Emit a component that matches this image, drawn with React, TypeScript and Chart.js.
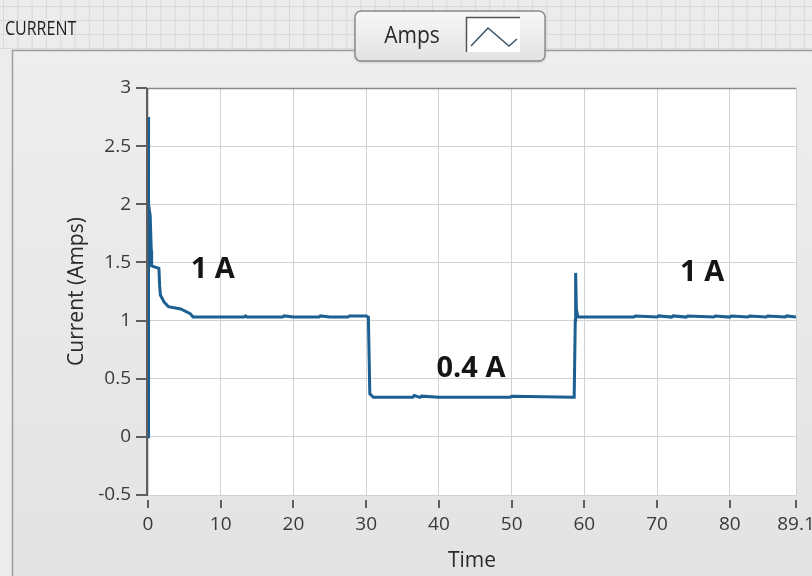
import React, { useEffect, useRef } from 'react';
import { Chart, registerables } from 'chart.js';
Chart.register(...registerables);

const chartTitle = 'CURRENT';
const seriesLabel = 'Amps';
const xTitle = 'Time';
const yTitle = 'Current (Amps)';

const times = [
  0, 0.05, 0.1, 0.3, 0.45, 0.5, 1.5, 1.6, 1.7, 2.2, 2.8, 4.5, 5.8, 6.2,
  8, 10, 13.2, 13.4, 13.6, 15, 18.5, 18.7, 20, 23.5, 23.7, 25, 27.5, 27.7, 30, 30.3,
  30.5, 31, 35, 36.4, 36.6, 37.4, 37.6, 40, 49.8, 50, 58.6,
  58.7, 58.75, 58.8, 58.9, 59.1, 66.8, 67, 70, 70.2, 72, 72.2, 74, 74.2, 77.8, 78,
  80, 80.2, 82.5, 82.7, 85, 85.2, 87.6, 87.8, 89.1
];
const amps = [
  0, 2.75, 2.0, 1.9, 1.6, 1.47, 1.45, 1.3, 1.22, 1.16, 1.12, 1.1, 1.06, 1.03,
  1.03, 1.03, 1.03, 1.04, 1.03, 1.03, 1.03, 1.04, 1.03, 1.03, 1.04, 1.03, 1.03, 1.04, 1.04, 1.03,
  0.37, 0.34, 0.34, 0.34, 0.355, 0.34, 0.35, 0.34, 0.34, 0.35, 0.34,
  0.34, 1.0, 1.41, 1.1, 1.03, 1.03, 1.04, 1.03, 1.04, 1.03, 1.04, 1.03, 1.04, 1.03, 1.04,
  1.03, 1.04, 1.03, 1.04, 1.03, 1.04, 1.03, 1.04, 1.03
];

const xTickValues = [0, 10, 20, 30, 40, 50, 60, 70, 80, 89.1];
const yTickValues = [-0.5, 0, 0.5, 1, 1.5, 2, 2.5, 3];

const annotationTexts = ['1 A', '0.4 A', '1 A'];
const annotationX = [8.9, 44.4, 76.2];
const annotationY = [1.44, 0.59, 1.41];

const FONT = '"Open Sans", "Noto Sans", sans-serif';

const decorPlugin = {
  id: 'decor',
  beforeDraw(chart: any) {
    const { ctx, width, height, chartArea: a } = chart;
    ctx.save();
    ctx.fillStyle = '#ececec';
    ctx.fillRect(0, 0, width, height);
    ctx.strokeStyle = '#d9d9d9';
    ctx.lineWidth = 1;
    for (let x = 3.5; x < width; x += 14.3) {
      ctx.beginPath(); ctx.moveTo(x, 0); ctx.lineTo(x, 50); ctx.stroke();
    }
    for (let y = 6.5; y < 50; y += 14) {
      ctx.beginPath(); ctx.moveTo(0, y); ctx.lineTo(width, y); ctx.stroke();
    }
    const g = ctx.createLinearGradient(0, 50, 0, height);
    g.addColorStop(0, '#eeeeee');
    g.addColorStop(1, '#e3e3e3');
    ctx.fillStyle = g;
    ctx.fillRect(12, 50, width - 12, height - 50);
    ctx.strokeStyle = '#9c9c9c';
    ctx.lineWidth = 1.5;
    ctx.beginPath();
    ctx.moveTo(12.5, height); ctx.lineTo(12.5, 50.5); ctx.lineTo(width, 50.5);
    ctx.stroke();
    ctx.fillStyle = '#ffffff';
    ctx.fillRect(a.left, a.top, a.right - a.left, a.bottom - a.top);
    // title, slightly stretched vertically like the reference
    ctx.save();
    ctx.translate(5, 29);
    ctx.scale(1, 1.3);
    ctx.fillStyle = '#1e1e1e';
    ctx.font = '16px ' + FONT;
    ctx.textBaseline = 'middle';
    ctx.textAlign = 'left';
    ctx.fillText(chartTitle, 0, 0);
    ctx.restore();
    // legend box
    const lx = 355, ly = 11, lw = 190, lh = 50;
    ctx.shadowColor = 'rgba(0,0,0,0.25)';
    ctx.shadowBlur = 3;
    ctx.shadowOffsetY = 1;
    const lg = ctx.createLinearGradient(0, ly, 0, ly + lh);
    lg.addColorStop(0, '#f7f7f7');
    lg.addColorStop(1, '#e2e2e2');
    ctx.fillStyle = lg;
    ctx.beginPath();
    ctx.roundRect(lx, ly, lw, lh, 6);
    ctx.fill();
    ctx.shadowColor = 'transparent';
    ctx.strokeStyle = '#8c8c8c';
    ctx.lineWidth = 1.5;
    ctx.stroke();
    ctx.save();
    ctx.translate(412, 36);
    ctx.scale(1, 1.15);
    ctx.fillStyle = '#2a2a2a';
    ctx.font = '21px ' + FONT;
    ctx.textAlign = 'center';
    ctx.textBaseline = 'middle';
    ctx.fillText(seriesLabel, 0, 0);
    ctx.restore();
    ctx.fillStyle = '#ffffff';
    ctx.fillRect(466, 17, 54, 35);
    ctx.strokeStyle = '#555555';
    ctx.lineWidth = 1.5;
    ctx.beginPath();
    ctx.moveTo(466.5, 52); ctx.lineTo(466.5, 17.5); ctx.lineTo(520, 17.5);
    ctx.stroke();
    ctx.strokeStyle = '#3d5566';
    ctx.lineWidth = 1.5;
    ctx.beginPath();
    ctx.moveTo(471, 46); ctx.lineTo(488, 28); ctx.lineTo(509, 46); ctx.lineTo(517, 39);
    ctx.stroke();
    ctx.restore();
  },
  afterDatasetsDraw(chart: any) {
    const { ctx, scales } = chart;
    ctx.save();
    ctx.fillStyle = '#151515';
    ctx.font = 'bold 29px ' + FONT;
    ctx.textAlign = 'center';
    ctx.textBaseline = 'middle';
    annotationTexts.forEach((t, i) => {
      ctx.fillText(t, scales.x.getPixelForValue(annotationX[i]), scales.y.getPixelForValue(annotationY[i]));
    });
    ctx.restore();
  },
  afterDraw(chart: any) {
    const { ctx, scales, chartArea: a } = chart;
    ctx.save();
    ctx.strokeStyle = '#8a8a8a';
    ctx.lineWidth = 1.5;
    ctx.beginPath(); ctx.moveTo(a.left, a.top + 0.5); ctx.lineTo(a.right, a.top + 0.5); ctx.stroke();
    ctx.strokeStyle = '#5e5e5e';
    ctx.lineWidth = 2;
    ctx.beginPath(); ctx.moveTo(a.left - 1, a.top); ctx.lineTo(a.left - 1, a.bottom + 1); ctx.stroke();
    yTickValues.forEach((v) => {
      const py = Math.round(scales.y.getPixelForValue(v));
      ctx.beginPath(); ctx.moveTo(a.left - 12, py); ctx.lineTo(a.left - 1, py); ctx.stroke();
    });
    xTickValues.forEach((v) => {
      const px = Math.round(scales.x.getPixelForValue(v));
      ctx.beginPath(); ctx.moveTo(px, a.bottom + 5); ctx.lineTo(px, a.bottom + 13); ctx.stroke();
    });
    ctx.restore();
  },
};

export default function App() {
  const ref = useRef<HTMLCanvasElement | null>(null);
  useEffect(() => {
    if (!ref.current) return;
    const chart = new Chart(ref.current, {
      type: 'line',
      data: {
        datasets: [
          {
            label: seriesLabel,
            data: times.map((t, i) => ({ x: t, y: amps[i] })),
            borderColor: '#1c5f91',
            borderWidth: 3,
            pointRadius: 0,
            tension: 0,
            fill: false,
          },
        ],
      },
      options: {
        responsive: false,
        animation: false,
        layout: { padding: { top: 88, right: 16, left: 0, bottom: 0 } },
        plugins: { legend: { display: false }, tooltip: { enabled: false } },
        scales: {
          x: {
            type: 'linear',
            min: 0,
            max: 89.1,
            afterBuildTicks: (s: any) => { s.ticks = xTickValues.map((v) => ({ value: v })); },
            afterFit: (s: any) => { s.height = 81; s.paddingLeft = 0; s.paddingRight = 0; },
            ticks: { color: '#3a3a3a', font: { family: FONT, size: 19 }, padding: 18, maxRotation: 0, autoSkip: false, callback: (v: any) => String(v) },
            grid: { color: '#d2d2d2', drawTicks: false, lineWidth: 1 },
            border: { display: false },
            title: { display: true, text: xTitle, color: '#2a2a2a', font: { family: FONT, size: 21 }, padding: { top: 0, bottom: 2 } },
          },
          y: {
            type: 'linear',
            min: -0.5,
            max: 3,
            afterBuildTicks: (s: any) => { s.ticks = yTickValues.map((v) => ({ value: v })); },
            afterFit: (s: any) => { s.width = 148; s.paddingTop = 0; s.paddingBottom = 0; },
            ticks: { color: '#3a3a3a', font: { family: FONT, size: 19 }, padding: 17, autoSkip: false, callback: (v: any) => String(v) },
            grid: { color: '#d2d2d2', drawTicks: false, lineWidth: 1 },
            border: { display: false },
            title: { display: true, text: yTitle, color: '#2a2a2a', font: { family: FONT, size: 21 }, padding: { top: 64, bottom: 0 } },
          },
        },
      },
      plugins: [decorPlugin],
    });
    return () => chart.destroy();
  }, []);
  return (
    <div style={{ position: 'fixed', left: 0, top: 0, width: 812, height: 576 }}>
      <canvas ref={ref} width={812} height={576} style={{ width: 812, height: 576 }} />
    </div>
  );
}
